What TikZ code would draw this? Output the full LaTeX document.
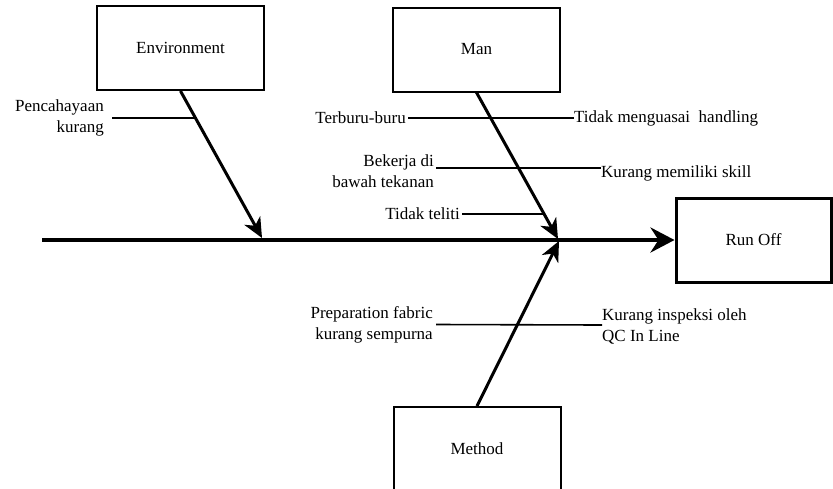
\documentclass[tikz,border=0pt]{standalone}
\usepackage{fontspec}
\newfontfamily\labelfont{Liberation Serif}
\usetikzlibrary{arrows.meta}

\begin{document}
\begin{tikzpicture}[x=1pt,y=-1pt,
  every node/.style={font=\labelfont\fontsize{17}{21}\selectfont, inner sep=0pt},
  catbox/.style={draw, line width=2pt, minimum width=167pt, minimum height=84pt},
  effectbox/.style={draw, line width=3pt, minimum width=155pt, minimum height=84pt},
  spine/.style={line width=4pt, -{Stealth[length=24pt,width=25pt,inset=8pt]}},
  branch/.style={line width=3pt, -{Stealth[length=20pt,width=18pt,inset=6pt]}},
  causeline/.style={line width=1.6pt},
  lefttext/.style={anchor=east, align=right},
  righttext/.style={anchor=west, align=left}]
\useasboundingbox (0,0) rectangle (833,488);
\clip (0,0) rectangle (833,488);

% category boxes and the effect box
\node[catbox] (env) at (180.5,48) {Environment};
\node[catbox] (man) at (476.5,49.5) {Man};
\node[catbox] (met) at (477,449) {Method};
\node[effectbox] (run) at (753.5,240) {Run Off};

% spine and where the branches meet it
\coordinate (tail) at (42,240);
\coordinate (envTip) at (262,238);
\coordinate (manTip) at (558,239);
\coordinate (metTip) at (559,241);
\draw[spine] (tail) -- (run.west);

% branches
\draw[branch] (env.south) -- (envTip);
\draw[branch] (man.south) -- (manTip);
\draw[branch] (met.north) -- (metTip);

% Environment causes
\node[lefttext] (pen) at (104,118) {Pencahayaan\\kurang};
\coordinate (penHit) at (194,118);
\draw[causeline] ([xshift=8pt]pen.east) -- (penHit);

% Man causes
\node[lefttext] (tb) at (406,118) {Terburu-buru};
\node[righttext] (tmh) at (574,118) {Tidak menguasai\ \ handling};
\draw[causeline] ([xshift=2pt]tb.east) -- (tmh.west);

\node[lefttext] (bek) at (434,171.5) {Bekerja di\\bawah tekanan};
\node[righttext] (kms) at (601,173) {Kurang memiliki skill};
\draw[causeline] ([xshift=2pt,yshift=3.5pt]bek.east) -- ([yshift=5pt]kms.west);

\node[lefttext] (tt) at (460,214) {Tidak teliti};
\coordinate (ttHit) at (544,214);
\draw[causeline] ([xshift=2pt]tt.east) -- (ttHit);

% Method causes
\node[lefttext] (prep) at (433,325) {Preparation fabric\\kurang sempurna};
\node[righttext] (kio) at (602,326.5) {Kurang inspeksi oleh\\QC In Line};
\draw[causeline] ([xshift=3pt,yshift=0.5pt]prep.east) -- ([yshift=1.5pt]kio.west);
\end{tikzpicture}
\end{document}
